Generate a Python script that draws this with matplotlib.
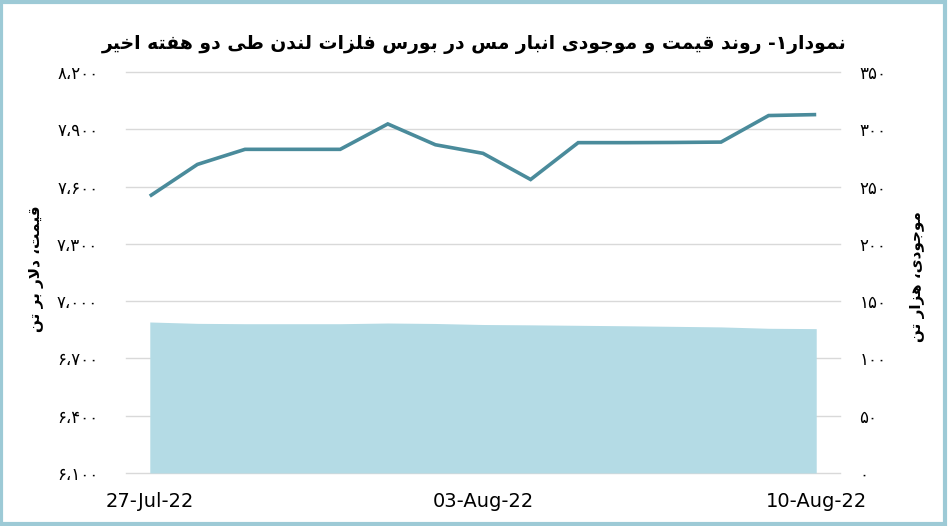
import matplotlib
matplotlib.use("Agg")
import matplotlib.pyplot as plt
import matplotlib.dates as mdates
from matplotlib.patches import Rectangle
import pandas as pd
import numpy as np

# ---------------- data ----------------
dates = pd.date_range("2022-07-27", "2022-08-10", freq="D")
price = [7550, 7716, 7795, 7795, 7795, 7928, 7819, 7774, 7637, 7830,
         7830, 7831, 7833, 7972, 7977]
inventory = [131.8, 130.6, 130.3, 130.3, 130.3, 130.9, 130.5, 129.6, 129.3,
             128.9, 128.5, 128.0, 127.5, 126.3, 126.0]
left_ticks = [6100, 6400, 6700, 7000, 7300, 7600, 7900, 8200]
right_ticks = [0, 50, 100, 150, 200, 250, 300, 350]
xtick_dates = ["2022-07-27", "2022-08-03", "2022-08-10"]
title_text = "نمودار۱- روند قیمت و موجودی انبار مس در بورس فلزات لندن طی دو هفته اخیر"
left_label = "قیمت، دلار بر تن"
right_label = "موجودی، هزار تن"

# ---------------- simple Persian shaping ----------------
FORMS = {
    'ا': ('\uFE8D', '\uFE8E', None, None),
    'ب': ('\uFE8F', '\uFE90', '\uFE91', '\uFE92'),
    'ت': ('\uFE95', '\uFE96', '\uFE97', '\uFE98'),
    'ج': ('\uFE9D', '\uFE9E', '\uFE9F', '\uFEA0'),
    'خ': ('\uFEA5', '\uFEA6', '\uFEA7', '\uFEA8'),
    'د': ('\uFEA9', '\uFEAA', None, None),
    'ر': ('\uFEAD', '\uFEAE', None, None),
    'ز': ('\uFEAF', '\uFEB0', None, None),
    'س': ('\uFEB1', '\uFEB2', '\uFEB3', '\uFEB4'),
    'ط': ('\uFEC1', '\uFEC2', '\uFEC3', '\uFEC4'),
    'ف': ('\uFED1', '\uFED2', '\uFED3', '\uFED4'),
    'ق': ('\uFED5', '\uFED6', '\uFED7', '\uFED8'),
    'ل': ('\uFEDD', '\uFEDE', '\uFEDF', '\uFEE0'),
    'م': ('\uFEE1', '\uFEE2', '\uFEE3', '\uFEE4'),
    'ن': ('\uFEE5', '\uFEE6', '\uFEE7', '\uFEE8'),
    'ه': ('\uFEE9', '\uFEEA', '\uFEEB', '\uFEEC'),
    'و': ('\uFEED', '\uFEEE', None, None),
    'ی': ('\uFBFC', '\uFBFD', '\uFBFE', '\uFBFF'),
    '\uFEFB': ('\uFEFB', '\uFEFC', None, None),  # lam-alef
}


def shape(text):
    chars = list(text.replace('لا', '\uFEFB'))
    out = []
    for i, c in enumerate(chars):
        if c not in FORMS:
            out.append(c)
            continue
        prev = chars[i - 1] if i > 0 else None
        nxt = chars[i + 1] if i + 1 < len(chars) else None
        cp = prev in FORMS and FORMS[prev][2] is not None if prev else False
        cn = (FORMS[c][2] is not None) and (nxt in FORMS if nxt else False)
        iso, fin, ini, med = FORMS[c]
        if cp and cn:
            out.append(med)
        elif cp:
            out.append(fin)
        elif cn:
            out.append(ini)
        else:
            out.append(iso)
    return ''.join(reversed(out))


PDIG = str.maketrans('0123456789', '۰۱۲۳۴۵۶۷۸۹')


def pnum(v):
    return f"{v:,}".replace(',', '،').translate(PDIG)


# ---------------- figure ----------------
plt.rcParams['font.family'] = ['DejaVu Sans']
fig = plt.figure(figsize=(9.48, 5.26), dpi=100)
ax2 = fig.add_axes([0.1329, 0.1008, 0.7532, 0.7623])
ax = ax2.twinx()

line_color = '#4A8B9B'
area_color = '#B4DBE5'
grid_color = '#D9D9D9'

# area (right axis)
ax2.fill_between(dates, inventory, 0, color=area_color, lw=0, zorder=2)
ax2.set_ylim(0, 350)
ax2.set_yticks(right_ticks)
ax2.yaxis.tick_right()
ax2.set_yticklabels([pnum(v) for v in right_ticks], fontsize=12)
ax2.grid(axis='y', color=grid_color, lw=1.0, zorder=0)
ax2.set_axisbelow(True)
for gl in ax2.get_ygridlines():
    gl.set_clip_on(False)

# line (left axis)
ax.plot(dates, price, color=line_color, lw=2.6, solid_capstyle='butt',
        solid_joinstyle='miter', zorder=3)
ax.set_ylim(6100, 8200)
ax.set_yticks(left_ticks)
ax.yaxis.tick_left()
ax.set_yticklabels([pnum(v) for v in left_ticks], fontsize=12)

ax.set_zorder(ax2.get_zorder() + 1)
ax.patch.set_visible(False)

x0 = mdates.date2num(dates[0]) - 0.5
x1 = mdates.date2num(dates[-1]) + 0.5
ax2.set_xlim(x0, x1)
ax2.set_xticks([mdates.date2num(pd.Timestamp(d)) for d in xtick_dates])
ax2.xaxis.set_major_formatter(mdates.DateFormatter('%d-%b-%y'))
for lbl in ax2.get_xticklabels():
    lbl.set_fontfamily('Liberation Sans Narrow')
    lbl.set_fontsize(14)

for a in (ax, ax2):
    for s in a.spines.values():
        s.set_visible(False)
    a.tick_params(length=0)
ax.tick_params(axis='y', pad=20)
ax2.tick_params(axis='y', pad=14)
ax2.tick_params(axis='x', pad=14)

fig.text(0.5, 0.915, shape(title_text), ha='center', va='center',
         fontsize=13.5, fontweight='bold')
fig.text(0.039, 0.49, shape(left_label), rotation=90, ha='center',
         va='center', fontsize=11, fontweight='bold')
fig.text(0.968, 0.475, shape(right_label), rotation=90, ha='center',
         va='center', fontsize=11, fontweight='bold')

fig.patches.append(Rectangle((0.0015, 0.003), 0.995, 0.994,
                             transform=fig.transFigure, fill=False,
                             edgecolor='#9DCAD6', lw=3))

fig.savefig('out.png', dpi=100)
